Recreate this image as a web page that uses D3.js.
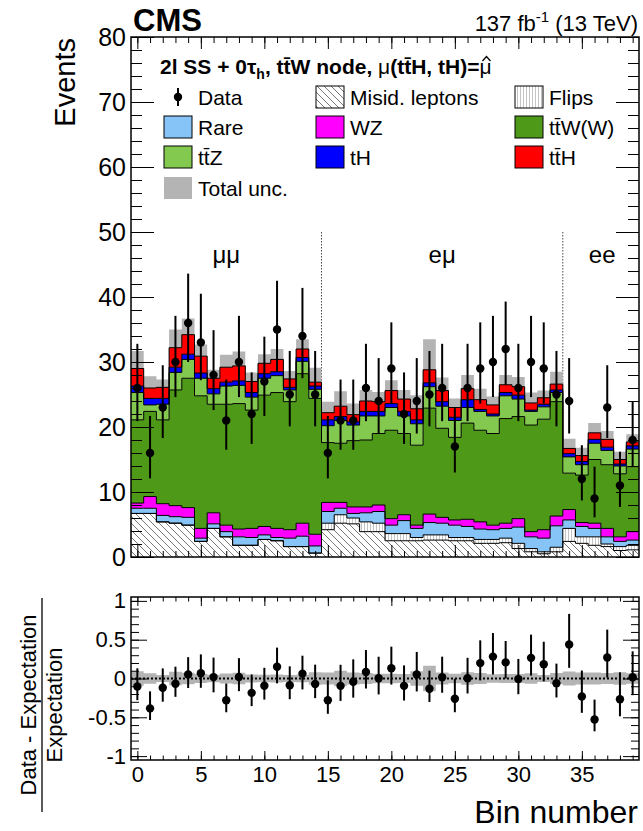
<!DOCTYPE html>
<html>
<head>
<meta charset="utf-8">
<script src="https://cdn.jsdelivr.net/npm/d3@7"></script>
<style>
  body { margin: 0; background: #fff; }
  svg { display: block; }
  text { font-family: "Liberation Sans", Arial, Helvetica, sans-serif; fill: #000; }
</style>
</head>
<body>
<svg id="chart" width="643" height="831"></svg>
<script>
// ---- data ----
const bins = d3.range(40);

const dataCounts = [26,16,23,30,36,33,28,21,30,22,27,35,25,34,25,
  16,21,21,26,24,29,22,24,25,26,17,26,29,30,32,26,30,29,25,
  24,12,9,23,11,18];
const dataLo = [20.9,12.1,18.3,24.6,30.0,27.2,22.6,16.5,24.6,17.4,21.7,28.5,20.1,27.5,20.1,
  12.1,16.5,16.5,20.9,19.0,23.6,17.4,19.0,20.1,20.9,13.0,20.9,23.6,24.6,26.5,20.9,24.6,23.6,20.1,
  19.0,8.7,6.1,18.3,7.7,13.9];
const dataHi = [32.8,21.7,29.5,37.1,43.6,40.5,34.9,27.3,37.1,28.4,33.9,42.5,31.7,41.4,31.7,
  21.7,27.3,27.3,32.8,30.6,36.1,28.4,30.6,31.7,32.8,22.9,32.8,36.1,37.1,39.3,32.8,37.1,36.1,31.7,
  30.6,17.2,13.9,29.5,16.2,23.9];

const misid = [6.7,6.7,5.4,5.2,4.9,2.4,4.4,3.1,1.8,1.8,2.7,2.5,1.6,1.6,0.6,
  4.2,5.2,5.1,3.9,3.9,2.5,2.5,2.5,2.6,2.6,2.5,2.5,2.1,2.1,2.2,1.3,0.8,0.5,0.8,
  2.4,2.1,1.8,1.6,1.0,1.1];
const flips = [0,0,0,0,0,0,0,0,0,0,0,0,0,0,0,
  1.0,1.3,0.9,1.5,1.3,1.1,1.1,0.5,0.8,0.8,0.5,0.5,0.6,0.6,0.7,0.8,0.5,0.3,0.7,
  2.0,1.0,1.3,0.4,0.6,0.7];
const rare = [0.8,0.8,1.0,1.0,1.2,0.5,0.7,0.8,1.3,1.2,0.7,0.5,1.3,1.6,1.1,
  1.8,1.0,0.7,1.4,1.8,1.3,2.0,1.4,1.9,1.8,1.9,1.7,1.6,1.5,1.5,2.5,1.8,2.1,3.3,
  1.3,1.6,1.3,1.1,0.8,0.8];
const wz = [0.8,1.8,1.8,1.7,1.5,1.5,1.7,1.0,1.2,1.4,1.3,1.4,1.3,2.0,1.8,
  1.4,0.9,1.0,0.9,1.0,1.0,0.9,0.5,1.3,0.9,0.8,1.1,1.1,0.7,0.8,1.3,0.8,1.3,1.5,
  1.6,0.6,0.8,1.3,0.7,1.3];
const ttw = [12.8,13.1,12.9,17.8,19.9,20.4,16.7,18.6,19.3,18.2,20.2,20.9,19.7,23.0,20.9,
  9.2,9.1,10.2,10.3,11.0,13.6,12.5,12.3,16.3,13.7,12.7,14.8,14.1,14.1,16.1,15.7,16.4,17.0,17.6,
  5.6,7.3,9.8,9.8,9.7,10.0];
const ttz = [4.2,1.0,2.4,2.7,2.9,2.7,1.6,2.8,2.8,2.0,2.6,2.6,1.8,1.9,1.4,
  2.6,3.5,2.4,3.7,2.7,3.5,2.7,3.3,3.3,3.4,2.6,2.4,2.9,2.7,3.5,2.7,2.1,1.9,1.4,
  2.5,1.6,2.5,2.2,1.2,2.7];
const th = [1.0,1.0,0.9,0.8,0.8,0.8,0.8,0.6,0.7,0.7,0.7,0.6,0.4,0.6,0.5,
  0.9,0.6,0.5,0.7,0.7,0.6,0.7,0.6,0.6,0.7,0.5,1.2,0.3,0.3,0.5,0.6,0.2,0.4,0.4,
  0.5,0.5,0.6,0.5,0.3,0.5];
const tth = [2.7,1.6,1.7,3.0,3.0,2.6,1.6,2.3,2.3,1.7,1.6,1.9,1.3,1.3,0.6,
  1.1,1.6,1.1,1.6,1.5,2.0,1.9,1.7,2.0,1.7,1.5,1.7,1.5,1.4,1.2,1.3,1.1,1.0,0.9,
  0.8,0.9,1.0,1.2,0.7,0.6];
const totUnc = [2.7,1.8,1.2,2.8,2.5,1.8,1.3,1.9,2.2,1.4,1.4,1.6,1.2,1.5,2.2,
  1.7,2.3,1.7,1.7,1.5,1.6,1.4,2.1,4.7,2.0,1.4,2.1,1.7,1.3,1.5,1.5,1.6,1.1,1.9,
  1.5,1.2,1.5,1.3,1.2,1.2];

const regionEdges = [14.5, 33.5];
const regionLabels = [{text: "μμ", at: 7}, {text: "eμ", at: 24}, {text: "ee", at: 36.6}];

const yTicks = d3.range(0, 81, 10);
const ratioTicks = [-1, -0.5, 0, 0.5, 1];
const xTicks = d3.range(0, 36, 5);

// bottom to top of the stack
const layers = [
  {key: "misid", values: misid, fill: "url(#hatchMisid)"},
  {key: "flips", values: flips, fill: "url(#hatchFlips)"},
  {key: "rare",  values: rare,  fill: "#86c3f7"},
  {key: "wz",    values: wz,    fill: "#ff00ff"},
  {key: "ttw",   values: ttw,   fill: "#4e9a18"},
  {key: "ttz",   values: ttz,   fill: "#84c94f"},
  {key: "th",    values: th,    fill: "#0000ff"},
  {key: "tth",   values: tth,   fill: "#ff0000"}
];

// ---- layout ----
const L = 131, R = 639;
const top1 = 37, bot1 = 557, top2 = 597, bot2 = 760;

const x = d3.scaleLinear().domain([-0.5, 39.5]).range([L, R]);
const y = d3.scaleLinear().domain([0, 80]).range([bot1, top1]);
const yr = d3.scaleLinear().domain([-1.05, 1.05]).range([bot2, top2]);

const svg = d3.select("#chart");
const defs = svg.append("defs");

const pm = defs.append("pattern").attr("id", "hatchMisid")
    .attr("patternUnits", "userSpaceOnUse").attr("width", 7).attr("height", 7);
pm.append("rect").attr("width", 7).attr("height", 7).attr("fill", "#fff");
pm.append("path").attr("d", "M0,0L7,7M-1,6L1,8M6,-1L8,1")
    .attr("stroke", "#555").attr("stroke-width", 0.8);

const pf = defs.append("pattern").attr("id", "hatchFlips")
    .attr("patternUnits", "userSpaceOnUse").attr("width", 3).attr("height", 3);
pf.append("rect").attr("width", 3).attr("height", 3).attr("fill", "#fff");
pf.append("path").attr("d", "M1.5,0V3").attr("stroke", "#aaa").attr("stroke-width", 0.7);

defs.append("clipPath").attr("id", "clipTop").append("rect")
    .attr("x", L).attr("y", top1).attr("width", R - L).attr("height", bot1 - top1);
defs.append("clipPath").attr("id", "clipBot").append("rect")
    .attr("x", L).attr("y", top2).attr("width", R - L).attr("height", bot2 - top2);

// step helper: one point per bin edge, last value repeated at the right edge
const stepPts = (lo, hi) => {
  const pts = bins.map(i => ({x: i - 0.5, lo: lo[i], hi: hi[i]}));
  pts.push({x: 39.5, lo: lo[39], hi: hi[39]});
  return pts;
};

const rows = bins.map(i => {
  const r = {};
  layers.forEach(l => r[l.key] = l.values[i]);
  return r;
});
const series = d3.stack().keys(layers.map(l => l.key))(rows);
const total = bins.map(i => series[series.length - 1][i][1]);

// ---- top panel ----
const gTop = svg.append("g").attr("clip-path", "url(#clipTop)");

regionEdges.forEach(e => {
  gTop.append("line")
      .attr("x1", x(e)).attr("x2", x(e))
      .attr("y1", y(50)).attr("y2", y(0))
      .attr("stroke", "#444").attr("stroke-width", 1)
      .attr("stroke-dasharray", "1.5,1.5");
});

const areaTop = d3.area().curve(d3.curveStepAfter)
    .x(p => x(p.x)).y0(p => y(p.lo)).y1(p => y(p.hi));

gTop.append("path")
    .datum(stepPts(bins.map(i => total[i] - totUnc[i]), bins.map(i => total[i] + totUnc[i])))
    .attr("fill", "#b4b4b4").attr("d", areaTop);

series.forEach((s, k) => {
  gTop.append("path")
      .datum(stepPts(s.map(d => d[0]), s.map(d => d[1])))
      .attr("fill", layers[k].fill).attr("d", areaTop);
});

const lineTop = d3.line().curve(d3.curveStepAfter).x(p => x(p.x)).y(p => y(p.hi));
series.forEach(s => {
  gTop.append("path")
      .datum(stepPts(s.map(d => d[0]), s.map(d => d[1])))
      .attr("fill", "none").attr("stroke", "#000").attr("stroke-width", 1)
      .attr("d", lineTop);
});

const gData = gTop.append("g");
gData.selectAll("line").data(bins).join("line")
    .attr("x1", i => x(i)).attr("x2", i => x(i))
    .attr("y1", i => y(dataLo[i])).attr("y2", i => y(dataHi[i]))
    .attr("stroke", "#000").attr("stroke-width", 2);
gData.selectAll("circle").data(bins).join("circle")
    .attr("cx", i => x(i)).attr("cy", i => y(dataCounts[i])).attr("r", 4.2)
    .attr("fill", "#000");

regionLabels.forEach(r => {
  svg.append("text").attr("x", x(r.at)).attr("y", 263)
      .attr("text-anchor", "middle").attr("font-size", 24).text(r.text);
});

// ---- ratio panel ----
const gBot = svg.append("g").attr("clip-path", "url(#clipBot)");
const areaBot = d3.area().curve(d3.curveStepAfter)
    .x(p => x(p.x)).y0(p => yr(p.lo)).y1(p => yr(p.hi));
gBot.append("path")
    .datum(stepPts(bins.map(i => -totUnc[i] / total[i]), bins.map(i => totUnc[i] / total[i])))
    .attr("fill", "#b4b4b4").attr("d", areaBot);
gBot.append("line")
    .attr("x1", L).attr("x2", R).attr("y1", yr(0)).attr("y2", yr(0))
    .attr("stroke", "#000").attr("stroke-width", 2).attr("stroke-dasharray", "2,2");
gBot.selectAll("line.err").data(bins).join("line").attr("class", "err")
    .attr("x1", i => x(i)).attr("x2", i => x(i))
    .attr("y1", i => yr(dataLo[i] / total[i] - 1)).attr("y2", i => yr(dataHi[i] / total[i] - 1))
    .attr("stroke", "#000").attr("stroke-width", 2);
gBot.selectAll("circle").data(bins).join("circle")
    .attr("cx", i => x(i)).attr("cy", i => yr(dataCounts[i] / total[i] - 1)).attr("r", 4.2)
    .attr("fill", "#000");

// ---- axes ----
const styleAxis = (g, size) => {
  g.select(".domain").remove();
  g.selectAll(".tick line").attr("stroke", "#000").attr("stroke-width", 1);
  g.selectAll("text").attr("font-size", size)
      .attr("font-family", "\"Liberation Sans\", Arial, sans-serif");
};

const addY = (scale, xPos, orient, major, minor, majLen, minLen, fmt, size) => {
  const mk = orient === "left" ? d3.axisLeft : d3.axisRight;
  const gMin = svg.append("g").attr("transform", `translate(${xPos},0)`)
      .call(mk(scale).tickValues(minor).tickSizeInner(-minLen).tickSizeOuter(0).tickFormat(""));
  styleAxis(gMin, size);
  const gMaj = svg.append("g").attr("transform", `translate(${xPos},0)`)
      .call(mk(scale).tickValues(major).tickSizeInner(-majLen).tickSizeOuter(0)
          .tickPadding(5).tickFormat(fmt));
  styleAxis(gMaj, size);
  return gMaj;
};

const addX = (yPos, orient, majLen, minLen, labels) => {
  const mk = orient === "bottom" ? d3.axisBottom : d3.axisTop;
  const gMin = svg.append("g").attr("transform", `translate(0,${yPos})`)
      .call(mk(x).tickValues(d3.range(0, 40)).tickSizeInner(-minLen).tickSizeOuter(0).tickFormat(""));
  styleAxis(gMin, 22);
  const gMaj = svg.append("g").attr("transform", `translate(0,${yPos})`)
      .call(mk(x).tickValues(xTicks).tickSizeInner(-majLen).tickSizeOuter(0)
          .tickPadding(6).tickFormat(labels ? d3.format("d") : ""));
  styleAxis(gMaj, 22);
};

const yMinor = d3.range(0, 81, 2);
addY(y, L, "left", yTicks, yMinor, 23, 11, d3.format("d"), 25);
addY(y, R, "right", yTicks, yMinor, 23, 11, "", 25);
const rMinor = d3.range(-10, 11).map(v => v / 10);
addY(yr, L, "left", ratioTicks, rMinor, 16, 8, d => d === 0 ? "0" : String(d), 22);
addY(yr, R, "right", ratioTicks, rMinor, 16, 8, "", 22);

addX(bot1, "bottom", 12, 6, false);
addX(top1, "top", 12, 6, false);
addX(bot2, "bottom", 9, 4.5, true);
addX(top2, "top", 9, 4.5, false);

svg.append("rect").attr("x", L).attr("y", top1).attr("width", R - L).attr("height", bot1 - top1)
    .attr("fill", "none").attr("stroke", "#000").attr("stroke-width", 1.5);
svg.append("rect").attr("x", L).attr("y", top2).attr("width", R - L).attr("height", bot2 - top2)
    .attr("fill", "none").attr("stroke", "#000").attr("stroke-width", 1.5);

// ---- texts ----
svg.append("text").attr("x", 133).attr("y", 31).attr("font-size", 31)
    .attr("font-weight", "bold").text("CMS");

const lumi = svg.append("text").attr("x", 638).attr("y", 31).attr("text-anchor", "end")
    .attr("font-size", 22);
lumi.append("tspan").text("137 fb");
lumi.append("tspan").attr("font-size", 15).attr("dy", -9).text("-1");
lumi.append("tspan").attr("dy", 9).text(" (13 TeV)");

svg.append("text").attr("transform", `translate(75,${top1 + 1}) rotate(-90)`)
    .attr("text-anchor", "end").attr("font-size", 29).text("Events");

const title = svg.append("text").attr("x", 160).attr("y", 74).attr("font-size", 21)
    .attr("font-weight", "bold");
title.append("tspan").text("2l SS + 0τ");
title.append("tspan").attr("font-size", 14).attr("dy", 5).text("h");
title.append("tspan").attr("dy", -5).text(", tt\u0304W node, ");
title.append("tspan").attr("font-weight", "normal").text("μ");
title.append("tspan").text("(tt\u0304H, tH)=");
const muHat = title.append("tspan").attr("font-weight", "normal").text("μ");
// hat over the last mu, drawn as a small caret
const muLen = muHat.node().getComputedTextLength();
const titleLen = title.node().getComputedTextLength();
const hx = 160 + titleLen - muLen / 2 + 1;
svg.append("path").attr("d", `M${hx - 4},${61}L${hx},${56.5}L${hx + 4},${61}`)
    .attr("fill", "none").attr("stroke", "#000").attr("stroke-width", 1.3);

// legend
const legendItems = [
  {label: "Data", kind: "data", col: 0, row: 0},
  {label: "Misid. leptons", fill: "url(#hatchMisid)", col: 1, row: 0},
  {label: "Flips", fill: "url(#hatchFlips)", col: 2, row: 0},
  {label: "Rare", fill: "#86c3f7", col: 0, row: 1},
  {label: "WZ", fill: "#ff00ff", col: 1, row: 1},
  {label: "tt\u0304W(W)", fill: "#4e9a18", col: 2, row: 1},
  {label: "tt\u0304Z", fill: "#84c94f", col: 0, row: 2},
  {label: "tH", fill: "#0000ff", col: 1, row: 2},
  {label: "tt\u0304H", fill: "#ff0000", col: 2, row: 2},
  {label: "Total unc.", fill: "#b4b4b4", noStroke: true, col: 0, row: 3}
];
const colX = [164, 316, 515];
const rowY = [97, 127, 157, 188];
const gLeg = svg.append("g");
legendItems.forEach(it => {
  const bx = colX[it.col], cy = rowY[it.row];
  if (it.kind === "data") {
    gLeg.append("line").attr("x1", bx + 14).attr("x2", bx + 14)
        .attr("y1", cy - 9).attr("y2", cy + 9).attr("stroke", "#000").attr("stroke-width", 2);
    gLeg.append("circle").attr("cx", bx + 14).attr("cy", cy).attr("r", 4.2).attr("fill", "#000");
  } else {
    gLeg.append("rect").attr("x", bx).attr("y", cy - 11).attr("width", 28).attr("height", 22)
        .attr("fill", it.fill)
        .attr("stroke", it.noStroke ? "none" : "#000").attr("stroke-width", 1);
  }
  gLeg.append("text").attr("x", bx + 34).attr("y", cy).attr("dy", "0.36em")
      .attr("font-size", 21).text(it.label);
});

// ratio y title as a fraction
const fracY = 705;
svg.append("text").attr("transform", `translate(36,${fracY}) rotate(-90)`)
    .attr("text-anchor", "middle").attr("font-size", 22).text("Data - Expectation");
svg.append("line").attr("x1", 42).attr("x2", 42).attr("y1", 598).attr("y2", 812)
    .attr("stroke", "#000").attr("stroke-width", 1.3);
svg.append("text").attr("transform", `translate(62,${fracY}) rotate(-90)`)
    .attr("text-anchor", "middle").attr("font-size", 22).text("Expectation");

svg.append("text").attr("x", 638).attr("y", 823).attr("text-anchor", "end")
    .attr("font-size", 32).text("Bin number");
</script>
</body>
</html>
